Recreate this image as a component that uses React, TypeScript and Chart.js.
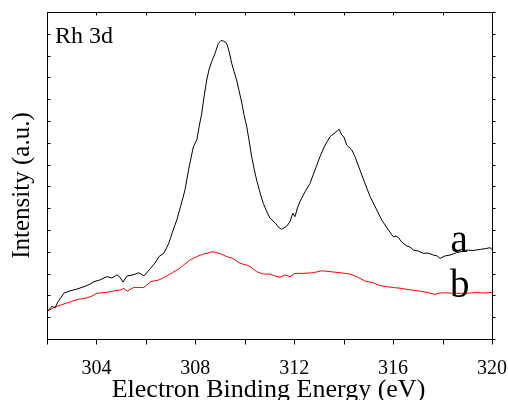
import React, { useEffect, useRef } from "react";
import { Chart, registerables } from "chart.js";

Chart.register(...registerables);

// ---- data ----
const aEnergy = [
  302.0, 302.21, 302.32, 302.44, 302.69, 302.96, 303.21, 303.5, 303.74, 303.9,
  304.14, 304.43, 304.63, 304.83, 304.95, 305.07, 305.24, 305.48, 305.72, 305.92,
  306.19, 306.37, 306.53, 306.73, 306.93, 307.06, 307.25, 307.42, 307.58, 307.74,
  307.92, 308.06, 308.15, 308.26, 308.35, 308.46, 308.55, 308.66, 308.8, 308.93,
  309.04, 309.13, 309.22, 309.29, 309.38, 309.47, 309.56, 309.67, 309.77, 309.88,
  309.97, 310.08, 310.17, 310.28, 310.37, 310.48, 310.62, 310.75, 310.88, 311.02,
  311.22, 311.4, 311.49, 311.7, 311.83, 311.94, 312.03, 312.13, 312.23, 312.44,
  312.64, 312.84, 313.04, 313.25, 313.45, 313.65, 313.75, 313.82, 313.92, 314.01,
  314.12, 314.33, 314.46, 314.66, 314.86, 315.07, 315.34, 315.54, 315.81, 316.01,
  316.12, 316.25, 316.28, 316.4, 316.55, 316.68, 316.82, 317.01, 317.22, 317.41,
  317.63, 317.78, 317.9, 318.1, 318.3, 318.57, 318.75, 318.98, 319.23, 319.52,
  319.76, 319.92, 320.0,
];
const aIntensity = [
  1.25, 1.51, 1.42, 1.7, 2.11, 2.22, 2.29, 2.4, 2.52, 2.63,
  2.71, 2.86, 2.8, 2.94, 2.84, 2.61, 2.89, 2.94, 3.04, 2.89,
  3.24, 3.49, 3.78, 3.94, 4.4, 4.86, 5.46, 6.15, 6.83, 7.84,
  8.82, 9.13, 9.72, 10.35, 11.1, 11.88, 12.34, 12.72, 13.11, 13.56,
  13.69, 13.67, 13.62, 13.49, 13.12, 12.65, 12.29, 11.88, 11.38, 10.83,
  10.28, 9.74, 9.13, 8.36, 7.84, 7.29, 6.7, 6.22, 5.87, 5.54,
  5.34, 5.09, 5.03, 5.18, 5.38, 5.77, 5.61, 6.01, 6.3, 6.76,
  7.14, 7.75, 8.36, 8.9, 9.28, 9.46, 9.56, 9.62, 9.36, 9.27,
  8.9, 8.67, 8.36, 7.75, 7.14, 6.53, 5.92, 5.46, 5.0, 4.69,
  4.72, 4.62, 4.54, 4.4, 4.27, 4.22, 4.08, 4.04, 3.93, 3.94,
  3.85, 3.81, 3.7, 3.81, 3.85, 3.96, 4.01, 4.08, 4.06, 4.11,
  4.15, 4.19, 4.11,
];
const bEnergy = [
  302.0, 302.28, 302.69, 303.09, 303.33, 303.62, 303.82, 304.02, 304.31, 304.58,
  304.75, 304.98, 305.11, 305.25, 305.52, 305.76, 305.92, 306.19, 306.53, 306.8,
  307.07, 307.31, 307.58, 307.78, 308.06, 308.32, 308.51, 308.67, 308.8, 309.0,
  309.27, 309.52, 309.81, 310.08, 310.21, 310.48, 310.75, 311.02, 311.22, 311.42,
  311.63, 311.83, 312.03, 312.37, 312.77, 313.11, 313.45, 313.85, 314.26, 314.53,
  314.86, 315.2, 315.47, 315.74, 316.0, 316.28, 316.6, 316.95, 317.29, 317.69,
  317.9, 318.17, 318.5, 318.98, 319.31, 319.72, 320.0,
];
const bIntensity = [
  1.26, 1.45, 1.61, 1.76, 1.83, 1.89, 1.97, 2.1, 2.13, 2.17,
  2.22, 2.25, 2.32, 2.2, 2.37, 2.36, 2.37, 2.63, 2.71, 2.86,
  3.04, 3.2, 3.44, 3.62, 3.78, 3.9, 3.94, 4.0, 3.98, 3.92,
  3.78, 3.7, 3.47, 3.39, 3.32, 3.09, 2.98, 2.98, 2.89, 2.83,
  2.94, 2.86, 3.01, 3.01, 3.04, 3.13, 3.09, 3.04, 2.98, 2.86,
  2.66, 2.58, 2.45, 2.4, 2.36, 2.33, 2.27, 2.22, 2.16, 2.05,
  2.11, 2.12, 2.09, 2.1, 2.13, 2.11, 2.14,
];

const xMin = 302;
const xMax = 320;
const xStep = 2;
const xLabelTicks = [304, 308, 312, 316, 320];
const yMin = 0;
const yMax = 15;
const yStep = 1;

const xTitle = "Electron Binding Energy (eV)";
const yTitle = "Intensity (a.u.)";
const panelLabel = "Rh 3d";
const seriesLabels = ["a", "b"];

// ---- styling / layout ----
const SERIF = "'Liberation Serif', 'Times New Roman', Times, serif";

const framePlugin = {
  id: "frame",
  afterDraw(chart: any) {
    const { ctx, chartArea, scales } = chart;
    const { left, right, top, bottom } = chartArea;
    const xs = scales.x;
    const ys = scales.y;
    const L = Math.round(left) + 0.5;
    const R = Math.round(right) + 0.5;
    const T = Math.round(top) + 0.5;
    const B = Math.round(bottom) + 0.5;
    ctx.save();
    ctx.strokeStyle = "#000";
    ctx.lineWidth = 1;
    ctx.beginPath();
    ctx.rect(L, T, R - L, B - T);
    ctx.stroke();

    ctx.beginPath();
    for (let v = xMin; v <= xMax + 1e-9; v += xStep) {
      const px = Math.round(xs.getPixelForValue(v)) + 0.5;
      ctx.moveTo(px, B);
      ctx.lineTo(px, B + 5);
      ctx.moveTo(px, T);
      ctx.lineTo(px, T + 3);
    }
    for (let v = yMin; v <= yMax + 1e-9; v += yStep) {
      const py = Math.round(ys.getPixelForValue(v)) + 0.5;
      ctx.moveTo(L, py);
      ctx.lineTo(L + 3, py);
      ctx.moveTo(R, py);
      ctx.lineTo(R + 3, py);
    }
    ctx.stroke();

    ctx.fillStyle = "#000";
    ctx.textAlign = "left";
    ctx.textBaseline = "alphabetic";
    ctx.font = `24px ${SERIF}`;
    ctx.fillText(panelLabel, xs.getPixelForValue(302.32), ys.getPixelForValue(13.59));

    ctx.font = `39px ${SERIF}`;
    ctx.fillText(seriesLabels[0], xs.getPixelForValue(318.32), ys.getPixelForValue(3.99));
    ctx.fillText(seriesLabels[1], xs.getPixelForValue(318.3), ys.getPixelForValue(1.93));

    ctx.textAlign = "center";
    ctx.font = `26px ${SERIF}`;
    ctx.fillText(xTitle, (left + right) / 2 - 1, bottom + 58);

    ctx.translate(28.5, (top + bottom) / 2 + 10);
    ctx.rotate(-Math.PI / 2);
    ctx.font = `25px ${SERIF}`;
    ctx.fillText(yTitle, 0, 0);
    ctx.restore();
  },
};

export default function App() {
  const ref = useRef<HTMLCanvasElement>(null);
  useEffect(() => {
    const canvas = ref.current;
    if (!canvas) return;
    let alive = true;
    const chart = new Chart(canvas, {
      type: "line",
      data: {
        datasets: [
          {
            label: seriesLabels[0],
            data: aEnergy.map((e, i) => ({ x: e, y: aIntensity[i] })),
            borderColor: "#000000",
            borderWidth: 1,
            pointRadius: 0,
            tension: 0,
            fill: false,
          },
          {
            label: seriesLabels[1],
            data: bEnergy.map((e, i) => ({ x: e, y: bIntensity[i] })),
            borderColor: "#ff0000",
            borderWidth: 1,
            pointRadius: 0,
            tension: 0,
            fill: false,
          },
        ],
      },
      options: {
        responsive: false,
        animation: false,
        devicePixelRatio: 1,
        layout: { padding: { top: 12, right: 16, left: 0, bottom: 0 } },
        plugins: { legend: { display: false }, tooltip: { enabled: false }, title: { display: false } },
        scales: {
          x: {
            type: "linear",
            min: xMin,
            max: xMax,
            grid: { display: false },
            border: { display: false },
            ticks: {
              stepSize: xStep,
              padding: 10,
              color: "#000",
              autoSkip: false,
              maxRotation: 0,
              font: { family: SERIF, size: 20 },
              callback: (v: any) => (xLabelTicks.includes(Math.round(Number(v))) ? String(Math.round(Number(v))) : ""),
            },
            afterFit: (s: any) => {
              s.height = 61;
              s.paddingLeft = 0;
              s.paddingRight = 0;
            },
          },
          y: {
            type: "linear",
            min: yMin,
            max: yMax,
            grid: { display: false },
            border: { display: false },
            ticks: { display: false, stepSize: yStep },
            afterFit: (s: any) => {
              s.width = 47;
              s.paddingTop = 0;
              s.paddingBottom = 0;
            },
          },
        },
      },
      plugins: [framePlugin],
    } as any);

    const fonts = (document as any).fonts;
    if (fonts && fonts.load) {
      Promise.all([
        fonts.load(`20px "Liberation Serif"`),
        fonts.load(`24px "Liberation Serif"`),
      ])
        .then(() => {
          if (alive) chart.update();
        })
        .catch(() => {});
    }
    return () => {
      alive = false;
      chart.destroy();
    };
  }, []);

  return (
    <div style={{ position: "absolute", left: 0, top: 0, width: 508, height: 400, background: "#fff" }}>
      <canvas ref={ref} width={508} height={400} style={{ display: "block", width: 508, height: 400 }} />
    </div>
  );
}
